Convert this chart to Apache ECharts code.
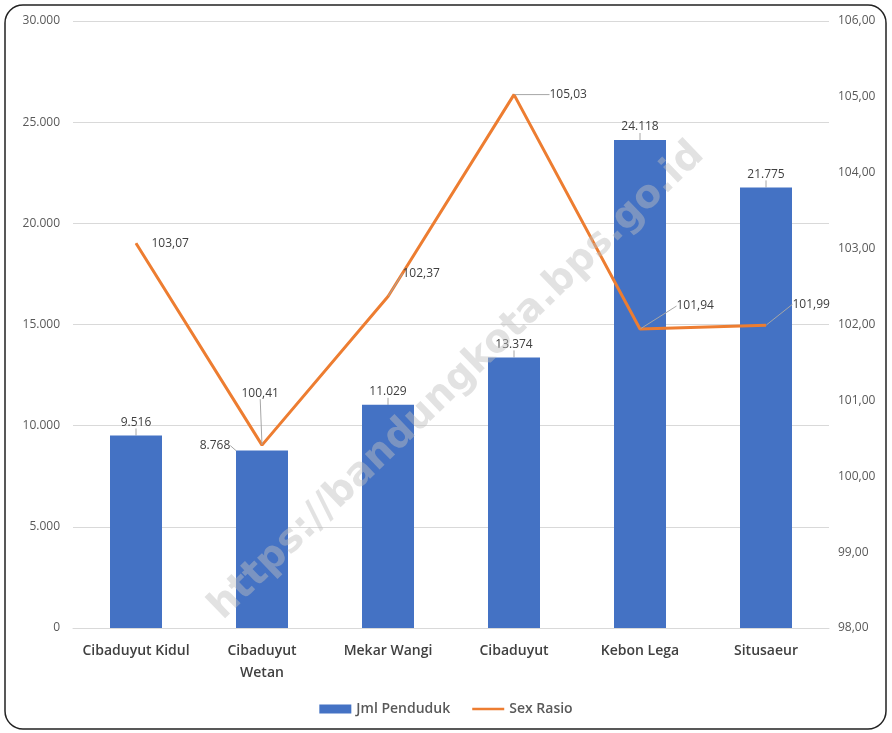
<!DOCTYPE html>
<html>
<head>
<meta charset="utf-8">
<script src="https://cdn.jsdelivr.net/npm/echarts@6/dist/echarts.min.js"></script>
<style>html,body{margin:0;padding:0;background:#fff}#c{width:892px;height:733px}</style>
</head>
<body>
<div id="c"></div>
<script>
const categories = ['Cibaduyut Kidul', 'Cibaduyut\nWetan', 'Mekar Wangi', 'Cibaduyut', 'Kebon Lega', 'Situsaeur'];
const jmlPenduduk = [9516, 8768, 11029, 13374, 24118, 21775];
const sexRasio = [103.07, 100.41, 102.37, 105.03, 101.94, 101.99];
const leftTicks = { min: 0, max: 30000, interval: 5000 };
const rightTicks = { min: 98, max: 106, interval: 1 };

const lineLabelOffsets = [[10, 0], [-26, -52], [9, -23], [30, 0], [31, -23], [21, -21]];
const lineLabelLeader = [false, true, true, true, true, true];
const barLabelOffsets = [[0, 0], [-47, 8], [0, 0], [0, 0], [0, 0], [0, 0]];

function fmtThousands(v) {
  return String(Math.round(v)).replace(/\B(?=(\d{3})+(?!\d))/g, '.');
}
function fmtComma(v) { return v.toFixed(2).replace('.', ','); }

const FONT = '"Open Sans", "Liberation Sans", sans-serif';
const chart = echarts.init(document.getElementById('c'), null, { renderer: 'canvas' });
chart.setOption({
  animation: false,
  textStyle: { fontFamily: FONT },
  grid: { left: 73, right: 63, top: 21, bottom: 105, containLabel: false },
  legend: {
    bottom: 12, left: 'center',
    itemGap: 22, itemWidth: 32, itemHeight: 9,
    textStyle: { fontFamily: FONT, fontSize: 14, color: '#595959', fontWeight: 600 },
    data: [
      { name: 'Jml Penduduk', icon: 'rect' },
      { name: 'Sex Rasio', icon: 'path://M0,0 M0,3.3 L32,3.3 L32,5.8 L0,5.8 Z M32,9' }
    ]
  },
  xAxis: {
    type: 'category', data: categories,
    axisLine: { lineStyle: { color: '#d9d9d9' } },
    axisTick: { show: false },
    axisLabel: { interval: 0, margin: 12, fontSize: 14, fontWeight: 600, color: '#404040', lineHeight: 22, fontFamily: FONT }
  },
  yAxis: [
    {
      type: 'value', min: leftTicks.min, max: leftTicks.max, interval: leftTicks.interval,
      axisLine: { show: false }, axisTick: { show: false },
      splitLine: { lineStyle: { color: '#d9d9d9' } },
      axisLabel: { margin: 13, fontSize: 12, color: '#595959', formatter: fmtThousands }
    },
    {
      type: 'value', min: rightTicks.min, max: rightTicks.max, interval: rightTicks.interval,
      axisLine: { show: false }, axisTick: { show: false },
      splitLine: { show: false },
      axisLabel: { margin: 9, fontSize: 12, color: '#595959', formatter: fmtComma }
    }
  ],
  series: [
    {
      name: 'Jml Penduduk', type: 'bar', data: jmlPenduduk, barWidth: 52,
      itemStyle: { color: '#4472C4' },
      label: { show: true, position: 'top', distance: 7, fontSize: 12, color: '#404040', formatter: p => fmtThousands(p.value) },
      labelLine: { show: true, lineStyle: { color: '#a6a6a6', width: 1 } },
      labelLayout: p => ({ dx: barLabelOffsets[p.dataIndex][0], dy: barLabelOffsets[p.dataIndex][1] })
    },
    {
      name: 'Sex Rasio', type: 'line', yAxisIndex: 1,
      data: sexRasio.map((v, i) => ({ value: v, labelLine: { show: lineLabelLeader[i] } })),
      symbol: 'circle', symbolSize: 1, showSymbol: true,
      lineStyle: { color: '#ED7D31', width: 3 },
      itemStyle: { color: '#ED7D31' },
      label: { show: true, position: 'right', distance: 5, fontSize: 12, color: '#404040', formatter: p => fmtComma(p.value) },
      labelLine: { show: true, lineStyle: { color: '#a6a6a6', width: 1 } },
      labelLayout: p => ({ dx: lineLabelOffsets[p.dataIndex][0], dy: lineLabelOffsets[p.dataIndex][1] })
    }
  ],
  graphic: [
    {
      type: 'rect', z: -10, silent: true,
      shape: { x: 5, y: 5, width: 881, height: 724, r: 18 },
      style: { fill: 'none', stroke: '#222', lineWidth: 1.5 }
    },
    {
      type: 'text', z: 100, silent: true,
      x: 457, y: 381, rotation: Math.PI / 4.1,
      style: {
        text: 'https://bandungkota.bps.go.id', fontSize: 39, fontWeight: 'bold',
        fontFamily: '"DejaVu Sans", sans-serif',
        fill: 'rgba(190,190,190,0.45)', align: 'center', verticalAlign: 'middle'
      }
    }
  ]
});
</script>
</body>
</html>
